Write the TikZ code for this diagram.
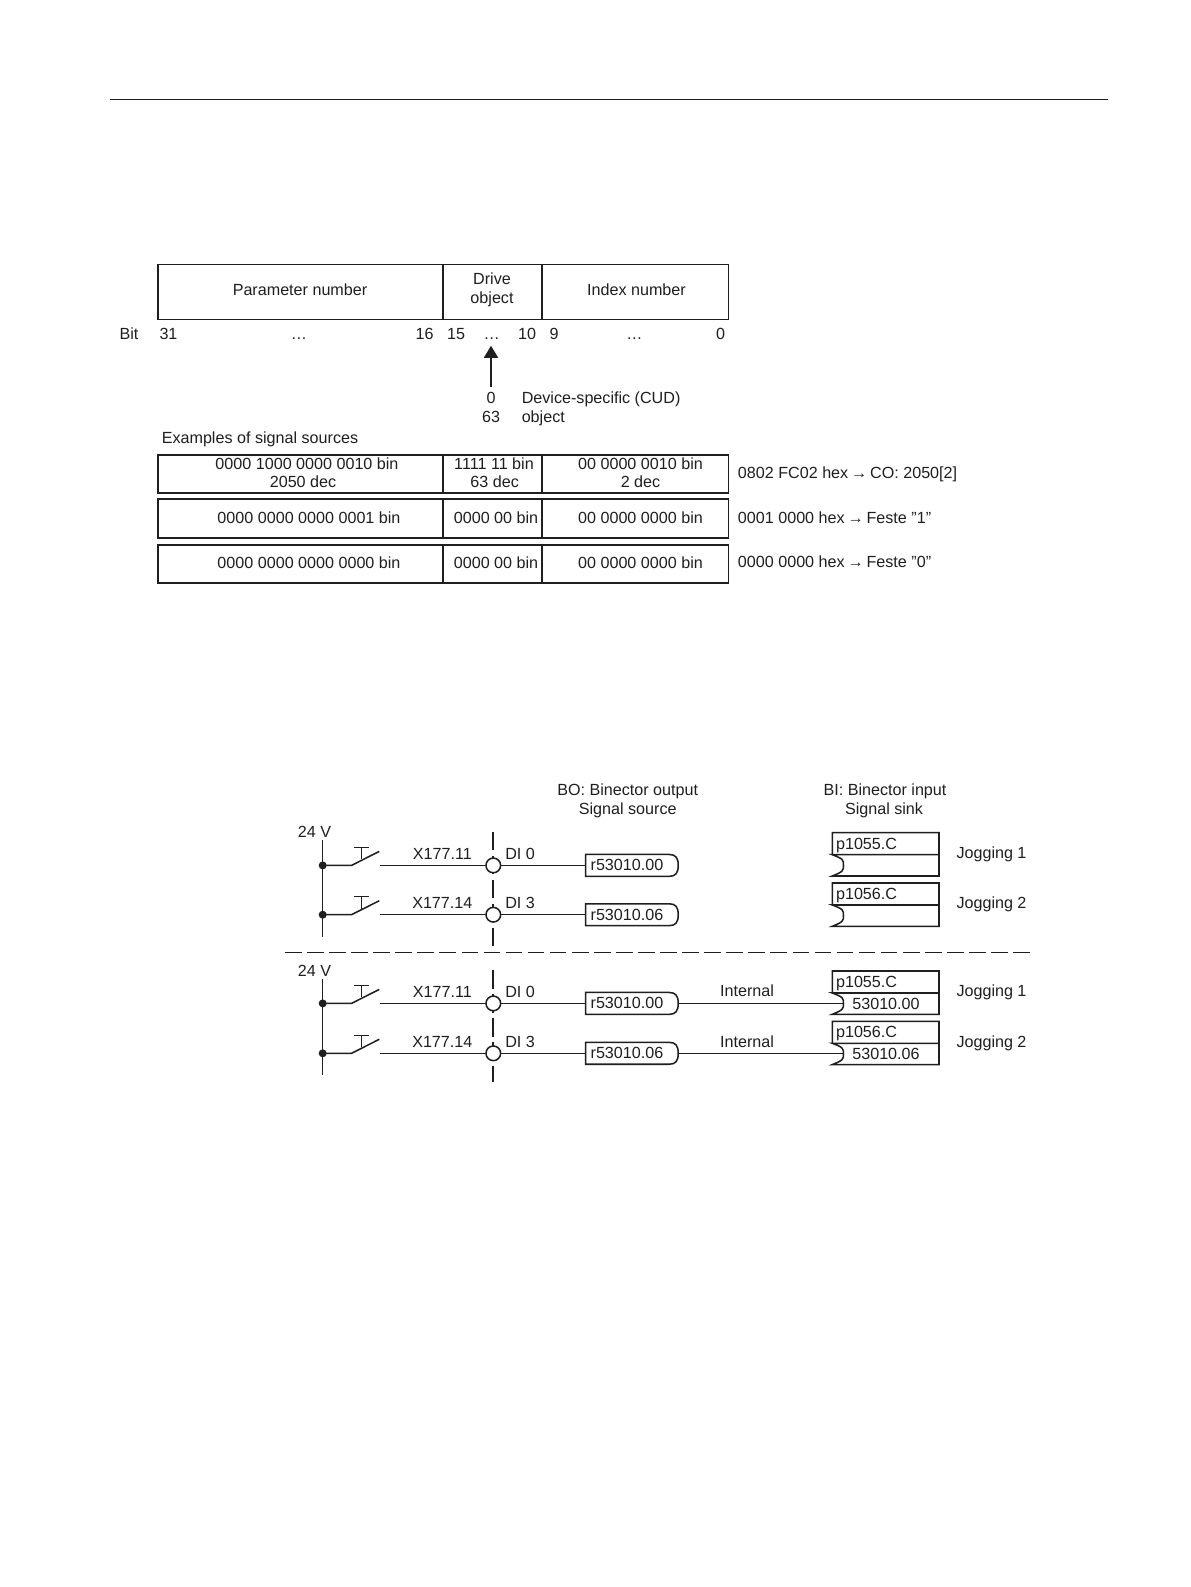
\documentclass[tikz,border=0pt]{standalone}
\usepackage{fontspec}
\setmainfont{Liberation Sans}
\usetikzlibrary{fit,calc,arrows.meta}
\definecolor{ink}{gray}{0.12}
\tikzset{
  lbl/.style={inner sep=0pt,anchor=base,text=ink,font=\fontsize{12.1}{14}\selectfont},
  lblw/.style={lbl,anchor=base west},
  cellbox/.style={draw=ink,line width=1.3pt,rectangle,inner sep=0pt,fill=none},
  conn/.style={draw=ink,line width=1.15pt},
  busdot/.style={circle,fill=ink,inner sep=0pt,minimum size=6pt},
  port/.style={circle,draw=ink,line width=1.15pt,fill=white,inner sep=0pt,minimum size=11pt},
  srcbox/.style={rectangle,inner sep=0pt,minimum height=16pt,minimum width=69pt,anchor=west,text=ink,font=\fontsize{12.1}{14}\selectfont,text width=62pt,align=left,inner xsep=2.7pt},
  thickdash/.style={draw=ink,line width=1.7pt,dash pattern=on 14pt off 4pt},
  sepdash/.style={draw=ink,line width=1.15pt,dash pattern=on 12.5pt off 4.05pt},
  sourceline/.style={draw=ink,line width=1.15pt},
}
% input row: id, wire y, terminal, DI label, parameter
\newcommand{\inrow}[5]{%
  \node[busdot] (bus#1) at (322.7,#2) {};
  \coordinate (kn#1) at (351.5,#2);
  \coordinate (tip#1) at (379.3,{#2-14});
  \coordinate (w#1) at (380,#2);
  \coordinate (tl#1) at (354,{#2-18});
  \coordinate (tr#1) at (369.3,{#2-18});
  \coordinate (tm#1) at (361.7,{#2-18});
  \coordinate (ts#1) at (361.7,{#2-6});
  \draw[conn] (bus#1.center) -- (kn#1) -- (tip#1);
  \draw[conn] (tl#1) -- (tr#1) (tm#1) -- (ts#1);
  \node[port] (c#1) at (493.3,#2) {};
  \node[srcbox] (r#1) at (585.7,#2) {#5};
  \draw[sourceline] ($(r#1.north east)+(-9,0)$) -- (r#1.north west) -- (r#1.south west) -- ($(r#1.south east)+(-9,0)$)
     .. controls +(6.5,0) and +(0,7.5) .. (r#1.east)
     .. controls +(0,-7.5) and +(6.5,0) .. ($(r#1.north east)+(-9,0)$);
  \draw[conn] (w#1) -- (c#1) -- (r#1.west);
  \node[lbl] (x#1) at (442.3,{#2-6.3}) {#3};
  \node[lblw] (di#1) at (505,{#2-6.3}) {#4};
}
% sink box: id, top y, param, function
\newcommand{\sink}[4]{%
  \node[draw=none,inner sep=0pt,fit={(832.3,#2)(939,{#2+22})}] (pa#1) {};
  \draw[conn] (832.3,{#2+22}) -- (832.3,#2) -- (939,#2) -- (939,{#2+43.3}) -- (832.3,{#2+43.3})
     .. controls (843,{#2+39}) and (843.5,{#2+38}) .. (843.5,{#2+32.7})
     .. controls (843.5,{#2+27}) and (843,{#2+26}) .. (832.3,{#2+22}) -- (939,{#2+22});
  \node[lblw] (pt#1) at (835.8,{#2+16.3}) {#3};
  \node[lbl] (jog#1) at (991.5,{#2+25.7}) {#4};
  \coordinate (nt#1) at (843.5,{#2+32.7});
}
\begin{document}
\begin{tikzpicture}[x=0.75pt,y=-0.75pt]
\useasboundingbox (0,0) rectangle (1191,1587);
\fill[white] (0,0) rectangle (1191,1587);
\coordinate (ruleL) at (110,99.5);
\coordinate (ruleR) at (1108,99.5);
\draw[draw=ink,line width=0.8pt] (ruleL) -- (ruleR);

% header table
\node[cellbox,fit={(158,264.5)(443,319.5)}] (hA) {};
\node[cellbox,fit={(443,264.5)(541.7,319.5)}] (hB) {};
\node[cellbox,fit={(541.7,264.5)(728.5,319.5)}] (hC) {};
\node[lbl] (tA) at (300,295) {Parameter number};
\node[lbl] (tB1) at (492,284.5) {Drive};
\node[lbl] (tB2) at (492,303.5) {object};
\node[lbl] (tC) at (636.5,295) {Index number};

% bits
\node[lbl] (bit) at (129,339.5) {Bit};
\node[lbl] (b31) at (168.5,339.5) {31};
\node[lbl] (bd1) at (299,339.5) {\dots};
\node[lbl] (b16) at (424.7,339.5) {16};
\node[lbl] (b15) at (456,339.5) {15};
\node[lbl] (bd2) at (491.7,339.5) {\dots};
\node[lbl] (b10) at (527,339.5) {10};
\node[lbl] (b9) at (554,339.5) {9};
\node[lbl] (bd3) at (634.5,339.5) {\dots};
\node[lbl] (b0) at (720.5,339.5) {0};

% drive object range
\node[lbl] (zero) at (491,403) {0};
\node[lbl] (sixty) at (491,422) {63};
\node[lblw] (dev) at (521.5,403.5) {Device-specific (CUD)};
\node[lblw] (obj) at (521.5,422) {object};
\draw[draw=ink,line width=1.4pt,-{Triangle[length=9pt,width=10.5pt]},shorten <=3.5pt,shorten >=4.5pt]
  (zero.north) -- (zero.north |- bd2.south);

\node[lblw] (ex) at (161.5,443) {Examples of signal sources};

% row 1
\node[cellbox,fit={(158,454.7)(443,493)}] (aA) {};
\node[cellbox,fit={(443,454.7)(541.7,493)}] (aB) {};
\node[cellbox,fit={(541.7,454.7)(728.5,493)}] (aC) {};
\node[lbl] (a1) at (307,469) {0000 1000 0000 0010 bin};
\node[lbl] (a2) at (303,487) {2050 dec};
\node[lbl] (a3) at (494,469) {1111 11 bin};
\node[lbl] (a4) at (494.7,487) {63 dec};
\node[lbl] (a5) at (640.5,469) {00 0000 0010 bin};
\node[lbl] (a6) at (640.5,487) {2 dec};
\node[lblw] (a7) at (737.7,478.3) {0802 FC02 hex{\kern-1.2pt} → {\kern-1.2pt}CO: 2050[2]};

% row 2
\node[cellbox,fit={(158,499)(443,537.7)}] (bA) {};
\node[cellbox,fit={(443,499)(541.7,537.7)}] (bB) {};
\node[cellbox,fit={(541.7,499)(728.5,537.7)}] (bC) {};
\node[lbl] (c1t) at (309,523.3) {0000 0000 0000 0001 bin};
\node[lbl] (c2t) at (496,523.3) {0000 00 bin};
\node[lbl] (c3t) at (640.5,523.3) {00 0000 0000 bin};
\node[lblw] (c4t) at (737.7,523.3) {0001 0000 hex{\kern-1.2pt} → {\kern-1.2pt}Feste ”1”};

% row 3
\node[cellbox,fit={(158,545)(443,583)}] (dA) {};
\node[cellbox,fit={(443,545)(541.7,583)}] (dB) {};
\node[cellbox,fit={(541.7,545)(728.5,583)}] (dC) {};
\node[lbl] (d1t) at (309,568) {0000 0000 0000 0000 bin};
\node[lbl] (d2t) at (496,568) {0000 00 bin};
\node[lbl] (d3t) at (640.5,568) {00 0000 0000 bin};
\node[lblw] (d4t) at (737.7,567.5) {0000 0000 hex{\kern-1.2pt} → {\kern-1.2pt}Feste ”0”};

% titles of lower diagram
\node[lbl] (bo1) at (627.7,795) {BO: Binector output};
\node[lbl] (bo2) at (627.7,814.3) {Signal source};
\node[lbl] (bi1) at (885,795) {BI: Binector input};
\node[lbl] (bi2) at (884,814.3) {Signal sink};

% dashes
\coordinate (va) at (493,831.7);
\coordinate (vb) at (493,945.7);
\coordinate (vc) at (493,970);
\coordinate (vd) at (493,1082);
\coordinate (ha) at (285,952.3);
\coordinate (hb) at (1030,952.3);
\draw[thickdash] (va) -- (vb);
\draw[thickdash] (vc) -- (vd);
\draw[sepdash] (ha) -- (hb);

% buses
\node[lbl] (v1) at (314.5,837.7) {24 V};
\node[lbl] (v2) at (314.5,976) {24 V};
\coordinate (busAt) at (322.7,840);
\coordinate (busAb) at (322.7,936.7);
\coordinate (busBt) at (322.7,979);
\coordinate (busBb) at (322.7,1075);
\draw[conn] (busAt) -- (busAb);
\draw[conn] (busBt) -- (busBb);

\inrow{1}{865.4}{X177.11}{DI 0}{r53010.00}
\inrow{2}{914.7}{X177.14}{DI 3}{r53010.06}
\inrow{3}{1003.4}{X177.11}{DI 0}{r53010.00}
\inrow{4}{1053.3}{X177.14}{DI 3}{r53010.06}

\sink{1}{832.7}{p1055.C}{Jogging 1}
\sink{2}{883}{p1056.C}{Jogging 2}
\sink{3}{971}{p1055.C}{Jogging 1}
\sink{4}{1021.3}{p1056.C}{Jogging 2}

\node[lbl] (v3) at (886,1009) {53010.00};
\node[lbl] (v4) at (886,1059.7) {53010.06};
\draw[conn] (r3.east) -- (r3.east -| nt3);
\draw[conn] (r4.east) -- (r4.east -| nt4);
\node[lbl] (i1) at (747,996.3) {Internal};
\node[lbl] (i2) at (747,1047.3) {Internal};
\end{tikzpicture}
\end{document}
